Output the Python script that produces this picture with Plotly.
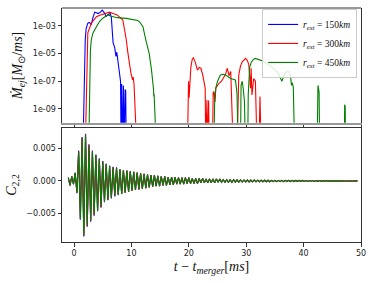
import numpy as np
import plotly.graph_objects as go
from plotly.subplots import make_subplots

# ---------------- top panel data: ejected mass rate (log10 of M_sun/ms); -12 means "no ejection" ----------------
t_150 = [1.55, 1.62, 1.7, 1.8, 1.95, 2.1, 2.4, 2.7, 3.0, 3.3, 3.6, 3.9, 4.2, 4.6, 4.9, 5.2, 5.6, 6.0, 6.3,
         6.5, 6.8, 7.1, 7.3, 7.45, 7.6, 7.9, 8.1, 8.2, 8.3, 8.45, 8.6, 8.75, 8.9, 9.0, 9.1]
lg_150 = [-12, -10, -7.5, -5.5, -4.0, -3.2, -2.8, -2.75, -2.9, -2.4, -2.0, -2.05, -2.1, -2.0, -1.85, -2.0, -2.3, -2.15, -2.1,
          -2.4, -4.2, -4.6, -5.2, -4.9, -5.4, -6.3, -7.0, -12, -7.2, -12, -7.3, -12, -7.6, -7.7, -12]

t_300 = [1.95, 2.05, 2.15, 2.25, 2.4, 3.0, 3.9, 4.6, 5.6, 6.2, 6.8, 7.5, 8.5, 8.8, 9.1, 9.4, 9.65, 9.9, 10.2, 10.3, 10.45,
         10.8, 10.95,
         19.75, 19.85, 19.95, 20.05, 20.15, 20.35, 20.6, 20.8, 21.1, 21.5, 21.8, 22.1, 22.4, 22.65, 22.85, 22.95,
         23.15, 23.3, 23.45, 23.55,
         24.1, 24.25, 24.4, 24.55, 24.7, 25.0, 25.25, 25.7, 26.1, 26.4, 26.7, 27.0, 27.3, 27.55, 27.75,
         28.4, 28.6, 28.7, 29.0, 29.3, 29.9, 30.2, 30.45, 30.75, 30.85, 31.0, 31.3, 31.6, 31.9, 32.2, 32.4, 32.6]
lg_300 = [-12, -10, -7, -4.8, -3.5, -2.8, -2.33, -2.2, -2.08, -2.0, -2.1, -2.2, -2.57, -3.2, -4.0, -5.0, -5.9, -6.4, -6.9, -6.7, -7.2,
          -9.1, -12,
          -12, -7.4, -7.0, -8.2, -7.5, -6.0, -5.4, -5.3, -5.6, -6.2, -6.0, -6.06, -6.5, -7.0, -7.5, -12,
          -8.35, -12, -8.4, -12,
          -12, -7.8, -7.75, -8.5, -7.5, -7.3, -7.15, -7.0, -6.66, -6.5, -6.06, -6.6, -6.3, -8.0, -12,
          -12, -7.0, -6.55, -5.9, -5.6, -5.35, -5.5, -5.8, -7.5, -6.06, -8.0, -6.8, -7.0, -12, -12, -8.1, -12]

t_450 = [2.55, 2.7, 2.85, 3.0, 3.3, 3.9, 4.4, 5.0, 5.5, 5.9, 6.5, 7.5, 9.1, 10.5, 11.1, 11.5, 12.0, 12.5, 13.1, 13.5,
         13.7, 13.85, 13.9, 13.95, 14.2, 14.25,
         24.35, 24.5, 24.7, 25.0, 25.5, 26.0, 26.4, 26.9, 27.3, 27.7, 28.1, 28.3, 28.4, 28.6,
         29.0, 29.1, 29.3, 29.5, 29.7, 29.85,
         30.25, 30.35, 30.45, 30.6, 30.9, 31.3, 31.6, 32.0, 32.4, 33.0, 33.9, 34.5, 35.1, 35.7, 36.2, 36.5, 36.8,
         37.1, 37.4, 37.7, 37.9, 38.0, 38.2, 38.45,
         42.35, 42.5, 42.6, 42.7, 42.8,
         47.1, 47.15, 47.25, 47.3]
lg_450 = [-12, -7.0, -4.8, -4.0, -3.5, -3.05, -2.7, -2.44, -2.3, -2.2, -2.3, -2.4, -2.45, -2.55, -2.6, -2.75, -3.05, -4.0, -5.0, -6.2,
          -6.9, -7.6, -8.1, -7.9, -10.5, -12,
          -12, -8.5, -7.5, -7.0, -6.55, -6.5, -6.55, -6.7, -6.8, -6.85, -6.9, -7.5, -8.0, -12,
          -12, -7.3, -7.0, -7.6, -8.5, -12,
          -12, -8.0, -6.8, -6.0, -5.6, -5.4, -5.35, -5.4, -5.45, -5.55, -5.8, -6.0, -6.2, -6.5, -7.0, -6.7, -6.4,
          -6.3, -6.3, -6.6, -7.3, -7.1, -7.4, -12,
          -12, -7.3, -7.5, -7.8, -12,
          -12, -8.7, -8.8, -12]

# ---------------- bottom panel data: C_{2,2} extrema, sampled every 0.3 ms from t = -1.0 ----------------
t_c22 = np.round(np.arange(169) * 0.3 - 1.0, 2)
c22_450 = [
    0.0005, -0.0007, 0.0007, -0.0005, 0.0012, -0.0018, 0.0045, -0.0058, 0.0066, -0.0084,
    0.0071, -0.0069, 0.0055, -0.0061, 0.0045, -0.0052, 0.0040, -0.0046, 0.0034, -0.0040,
    0.0030, -0.0032, 0.0026, -0.0029, 0.0023, -0.0026, 0.0021, -0.0023, 0.0020, -0.0021,
    0.0018, -0.0020, 0.0017, -0.0018, 0.0016, -0.0017, 0.0015, -0.0015, 0.0014, -0.0014,
    0.0013, -0.0013, 0.0012, -0.0012, 0.0011, -0.0011, 0.0010, -0.0010, 0.0009, -0.0009,
    0.0009, -0.0008, 0.0008, -0.0008, 0.0007, -0.0007, 0.0007, -0.0007, 0.0006, -0.0006,
    0.0006, -0.0006, 0.0006, -0.0005, 0.0005, -0.0005, 0.0005, -0.0005, 0.0005, -0.0004,
    0.0005, -0.0004, 0.0004, -0.0004, 0.0004, -0.0004, 0.0004, -0.0003, 0.0004, -0.0003,
    0.0003, -0.0003, 0.0003, -0.0003, 0.0003, -0.0003, 0.0003, -0.0002, 0.0003, -0.0002,
    0.0002, -0.0002, 0.0002, -0.0002, 0.0002, -0.0002, 0.00018, -0.00018, 0.00017, -0.00017,
    0.00016, -0.00016, 0.00015, -0.00015, 0.00014, -0.00014, 0.00014, -0.00013, 0.00013, -0.00013,
    0.00012, -0.00012, 0.00012, -0.00012, 0.00011, -0.00011, 0.00011, -0.00011, 0.0001, -0.0001,
    0.0001, -0.0001, 0.0001, -0.0001, 0.0001, -0.0001, 0.00009, -0.00009, 0.00009, -0.00009,
    0.00009, -0.00009, 0.00008, -0.00008, 0.00008, -0.00008, 0.00008, -0.00008, 0.00007, -0.00007,
    0.00007, -0.00007, 0.00007, -0.00007, 0.00006, -0.00006, 0.00006, -0.00006, 0.00006, -0.00006,
    0.00006, -0.00005, 0.00005, -0.00005, 0.00005, -0.00005, 0.00005, -0.00005, 0.00005, -0.00004,
    0.00004, -0.00004, 0.00004, -0.00004, 0.00004, -0.00004, 0.00003, -0.00003, 0.00003,
]
head_150 = [0.0005, -0.0007, 0.0007, -0.0005, 0.0013, -0.0019, 0.0047, -0.0060, 0.0068, -0.0086,
            0.0073, -0.0071, 0.0057, -0.0063, 0.0047, -0.0054, 0.0041, -0.0047, 0.0035, -0.0041,
            0.0031, -0.0033, 0.0027, -0.0030, 0.0024, -0.0027, 0.0022, -0.0024, 0.0021, -0.0022]
head_300 = [0.0005, -0.0007, 0.0007, -0.0005, 0.0012, -0.0018, 0.0046, -0.0059, 0.0067, -0.0085,
            0.0072, -0.0070, 0.0056, -0.0062, 0.0046, -0.0053, 0.0040, -0.0046, 0.0034, -0.0041,
            0.0030, -0.0032, 0.0026, -0.0029, 0.0023, -0.0026, 0.0021, -0.0023, 0.0020, -0.0021]
c22_150 = head_150 + c22_450[30:]
c22_300 = head_300 + c22_450[30:]

labels = ["<i>r</i><sub><i>ext</i></sub> = 150<i>km</i>",
          "<i>r</i><sub><i>ext</i></sub> = 300<i>km</i>",
          "<i>r</i><sub><i>ext</i></sub> = 450<i>km</i>"]
colors = ["#0000ff", "#ff0000", "#008000"]

ytick_vals = [1e-9, 1e-7, 1e-5, 1e-3]
ytick_text = ["1e-09", "1e-07", "1e-05", "1e-03"]
c22_tick_vals = [-0.005, 0.0, 0.005]
c22_tick_text = ["\u22120.005", "0.000", "0.005"]
x_ticks = [0, 10, 20, 30, 40, 50]

fig = make_subplots(rows=2, cols=1, shared_xaxes=True, vertical_spacing=0.0)

tops = [(t_150, lg_150), (t_300, lg_300), (t_450, lg_450)]
for (tt, lg), lab, col in zip(tops, labels, colors):
    fig.add_trace(go.Scatter(x=tt, y=[10.0 ** v for v in lg], mode="lines", name=lab,
                             line=dict(color=col, width=1.1)), row=1, col=1)

for yy, col in zip([c22_150, c22_300, c22_450], colors):
    fig.add_trace(go.Scatter(x=t_c22, y=yy, mode="lines", showlegend=False,
                             line=dict(color=col, width=1.1)), row=2, col=1)

W, H = 374, 283
ml, mr, mt, mb = 62, 11, 8, 41
ph = H - mt - mb
top_lo = (H - mb - 122.7) / ph
bot_hi = (H - mb - 128) / ph

tickfont = dict(family="DejaVu Sans", size=8, color="#222")
mathfont = dict(family="Liberation Serif", size=14, color="#111")
frame = "#333"

fig.update_layout(
    width=W, height=H, margin=dict(l=ml, r=mr, t=mt, b=mb),
    paper_bgcolor="white", plot_bgcolor="white",
    legend=dict(x=0.987, y=0.996, xanchor="right", yanchor="top",
                bgcolor="rgba(255,255,255,0.85)", bordercolor="#cccccc", borderwidth=1,
                font=dict(family="Liberation Serif", size=9.5, color="#111"),
                itemwidth=30, tracegroupgap=0),
    yaxis=dict(domain=[top_lo, 1.0], type="log", range=[-10.0, -1.7],
               tickvals=ytick_vals, ticktext=ytick_text, tickfont=tickfont,
               ticks="outside", ticklen=3.5, tickcolor=frame, showgrid=False, zeroline=False,
               showline=True, linecolor=frame, linewidth=1, mirror=True,
               title=dict(text="<i>\u1E40</i><sub><i>ej</i></sub>[<i>M</i><sub>\u2299</sub>/<i>ms</i>]",
                          font=mathfont, standoff=6)),
    yaxis2=dict(domain=[0.0, bot_hi], range=[-0.00945, 0.0082],
                tickvals=c22_tick_vals, ticktext=c22_tick_text, tickfont=tickfont,
                ticks="outside", ticklen=3.5, tickcolor=frame, showgrid=False, zeroline=False,
                showline=True, linecolor=frame, linewidth=1, mirror=True,
                title=dict(text="<i>C</i><sub>2,2</sub>", font=mathfont, standoff=6)),
    xaxis=dict(range=[-2.1, 50], tickvals=x_ticks, showticklabels=False,
               ticks="outside", ticklen=3.5, tickcolor=frame, showgrid=False, zeroline=False,
               showline=True, linecolor="#999999", linewidth=2, mirror=False),
    xaxis2=dict(range=[-2.1, 50], tickvals=x_ticks, tickfont=tickfont,
                ticks="outside", ticklen=3.5, tickcolor=frame, showgrid=False, zeroline=False,
                showline=True, linecolor=frame, linewidth=1, mirror=True,
                title=dict(text="<i>t</i> \u2212 <i>t</i><sub><i>merger</i></sub>[<i>ms</i>]",
                           font=mathfont, standoff=4)),
)
# top frame edge of the upper panel
fig.add_shape(type="line", xref="paper", yref="paper", x0=0, x1=1, y0=1, y1=1,
              line=dict(color=frame, width=1))

fig.write_html("out.html", config={"displayModeBar": False},
               post_script="document.body.style.margin='0';")
